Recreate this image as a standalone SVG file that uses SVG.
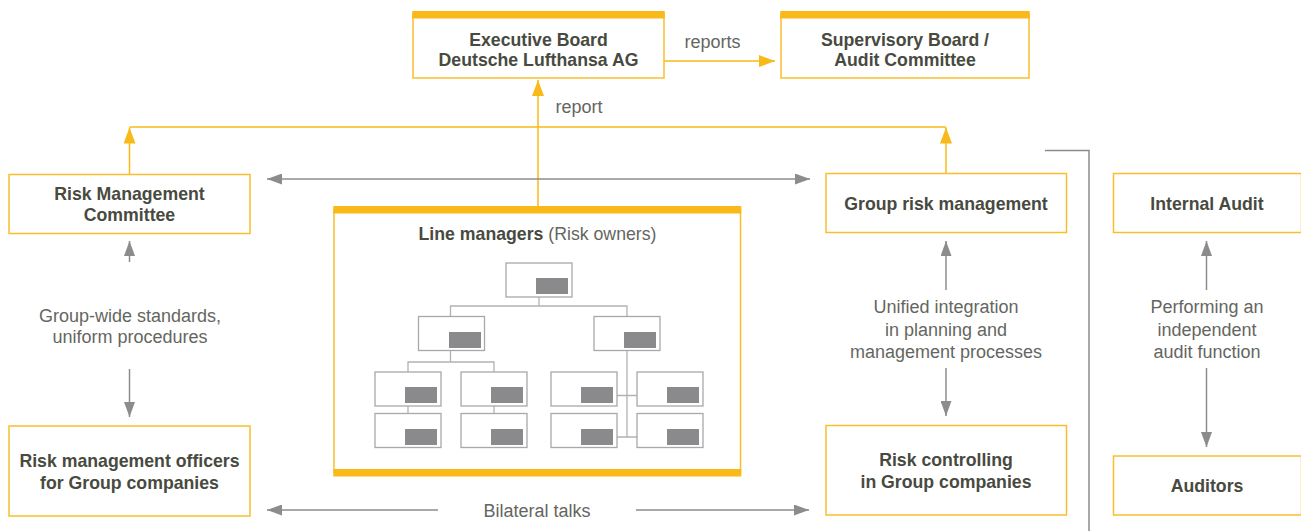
<svg xmlns="http://www.w3.org/2000/svg" width="1301" height="531" viewBox="0 0 1301 531">
<defs>
<style>
.box{fill:#fff;stroke:#F9BE2E;stroke-width:1.5}
.bar{fill:#F9B918}
.b{font-family:"Liberation Sans",Arial,sans-serif;font-weight:bold;font-size:17.7px;fill:#484a40;text-anchor:middle}
.r{font-family:"Liberation Sans",Arial,sans-serif;font-size:18px;fill:#64665f;text-anchor:middle}
.oline{fill:none;stroke:#F9B918;stroke-width:1.5}
.gline{fill:none;stroke:#8c8c8c;stroke-width:1.5}
.org{fill:#fff;stroke:#a8a8a8;stroke-width:1.3}
.orgl{fill:none;stroke:#b2b2b2;stroke-width:1.3}
.fill{fill:#8a8a8c}
</style>
<marker id="oa" markerUnits="userSpaceOnUse" markerWidth="16" markerHeight="12" refX="16" refY="6" orient="auto-start-reverse"><path d="M0,0 L16,6 L0,12 z" fill="#F9B918"/></marker>
<marker id="ga" markerUnits="userSpaceOnUse" markerWidth="15" markerHeight="11" refX="15" refY="5.5" orient="auto-start-reverse"><path d="M0,0 L15,5.5 L0,11 z" fill="#8c8c8c"/></marker>
</defs>
<rect width="1301" height="531" fill="#fff"/>

<g id="connectors">
<path class="oline" d="M538,206 V80" marker-end="url(#oa)"/>
<path class="oline" d="M664,61 H775" marker-end="url(#oa)"/>
<path class="oline" d="M129.5,127 H946"/>
<path class="oline" d="M129.5,174 V127.5" marker-end="url(#oa)"/>
<path class="oline" d="M946,173 V127.5" marker-end="url(#oa)"/>
<path class="gline" d="M267,179 H810" marker-start="url(#ga)" marker-end="url(#ga)"/>
<path class="gline" d="M438,510 H267" marker-end="url(#ga)"/>
<path class="gline" d="M636,510 H809" marker-end="url(#ga)"/>
<path class="gline" d="M129.5,262 V241" marker-end="url(#ga)"/>
<path class="gline" d="M129.5,369 V417" marker-end="url(#ga)"/>
<path class="gline" d="M946,290 V241" marker-end="url(#ga)"/>
<path class="gline" d="M946,368 V416" marker-end="url(#ga)"/>
<path class="gline" d="M1206.5,290 V241" marker-end="url(#ga)"/>
<path class="gline" d="M1206.5,368 V447" marker-end="url(#ga)"/>
<path class="gline" d="M1045,150.5 H1089 V531"/>
</g>

<g id="exec-board">
<rect class="box" x="413" y="14" width="251" height="64"/>
<rect class="bar" x="412.3" y="11" width="252.4" height="7.5"/>
<text class="b" x="538.5" y="46">Executive Board</text>
<text class="b" x="538.5" y="66">Deutsche Lufthansa AG</text>
</g>

<g id="supervisory-board">
<rect class="box" x="781" y="14" width="248" height="64"/>
<rect class="bar" x="780.3" y="11" width="249.4" height="7.5"/>
<text class="b" x="905" y="46">Supervisory Board /</text>
<text class="b" x="905" y="66">Audit Committee</text>
</g>

<g id="labels">
<text class="r" x="712.5" y="48">reports</text>
<text class="r" x="579" y="113">report</text>
<text class="r" x="130" y="322">Group-wide standards,</text>
<text class="r" x="130" y="343">uniform procedures</text>
<text class="r" x="946" y="313">Unified integration</text>
<text class="r" x="946" y="335.5">in planning and</text>
<text class="r" x="946" y="358">management processes</text>
<text class="r" x="1207" y="313">Performing an</text>
<text class="r" x="1207" y="335.5">independent</text>
<text class="r" x="1207" y="358">audit function</text>
<text class="r" x="537" y="517">Bilateral talks</text>
</g>

<g id="risk-management-committee">
<rect class="box" x="9" y="174.5" width="241" height="59"/>
<text class="b" x="129.5" y="200">Risk Management</text>
<text class="b" x="129.5" y="221">Committee</text>
</g>

<g id="group-risk-management">
<rect class="box" x="826" y="173.5" width="240.5" height="59"/>
<text class="b" x="946" y="210">Group risk management</text>
</g>

<g id="internal-audit">
<rect class="box" x="1113.5" y="173.5" width="188" height="59"/>
<text class="b" x="1207" y="210">Internal Audit</text>
</g>

<g id="risk-management-officers">
<rect class="box" x="9" y="426" width="241" height="90"/>
<text class="b" x="129.5" y="467">Risk management officers</text>
<text class="b" x="129.5" y="488.5">for Group companies</text>
</g>

<g id="risk-controlling">
<rect class="box" x="826" y="425.5" width="240.5" height="89.5"/>
<text class="b" x="946" y="465.5">Risk controlling</text>
<text class="b" x="946" y="487.5">in Group companies</text>
</g>

<g id="auditors">
<rect class="box" x="1113.5" y="456" width="188" height="59"/>
<text class="b" x="1207" y="492">Auditors</text>
</g>

<g id="line-managers">
<rect class="box" x="334" y="210" width="406.5" height="262"/>
<rect class="bar" x="333.3" y="206" width="408" height="7.5"/>
<rect class="bar" x="333.3" y="469" width="408" height="7.5"/>
<text class="b" x="537.5" y="240"><tspan>Line managers</tspan><tspan style="font-weight:normal;fill:#64665f"> (Risk owners)</tspan></text>
<path class="orgl" d="M539,297 V306 M450.5,316 V306 H627 V316 M450.5,351 V362 M408,372 V362 H494 V372 M408,406 V413 M494,406 V413 M627,351 V437 M616.5,395.5 H637 M616.5,437 H637"/>
<rect class="org" x="506" y="263" width="66" height="34"/>
<rect class="fill" x="536" y="278" width="32" height="16"/>
<rect class="org" x="418.5" y="316.5" width="66" height="34"/>
<rect class="fill" x="449" y="332" width="32" height="16"/>
<rect class="org" x="594" y="316.5" width="66" height="34"/>
<rect class="fill" x="624" y="332" width="32" height="16"/>
<rect class="org" x="375" y="372" width="66" height="34"/>
<rect class="fill" x="405" y="387" width="32" height="16"/>
<rect class="org" x="461" y="372" width="66" height="34"/>
<rect class="fill" x="491" y="387" width="32" height="16"/>
<rect class="org" x="375" y="413.5" width="66" height="34"/>
<rect class="fill" x="405" y="429" width="32" height="16"/>
<rect class="org" x="461" y="413.5" width="66" height="34"/>
<rect class="fill" x="491" y="429" width="32" height="16"/>
<rect class="org" x="551" y="372" width="66" height="34"/>
<rect class="fill" x="581" y="387" width="32" height="16"/>
<rect class="org" x="637" y="372" width="66" height="34"/>
<rect class="fill" x="667" y="387" width="32" height="16"/>
<rect class="org" x="551" y="413.5" width="66" height="34"/>
<rect class="fill" x="581" y="429" width="32" height="16"/>
<rect class="org" x="637" y="413.5" width="66" height="34"/>
<rect class="fill" x="667" y="429" width="32" height="16"/>
</g>
</svg>
